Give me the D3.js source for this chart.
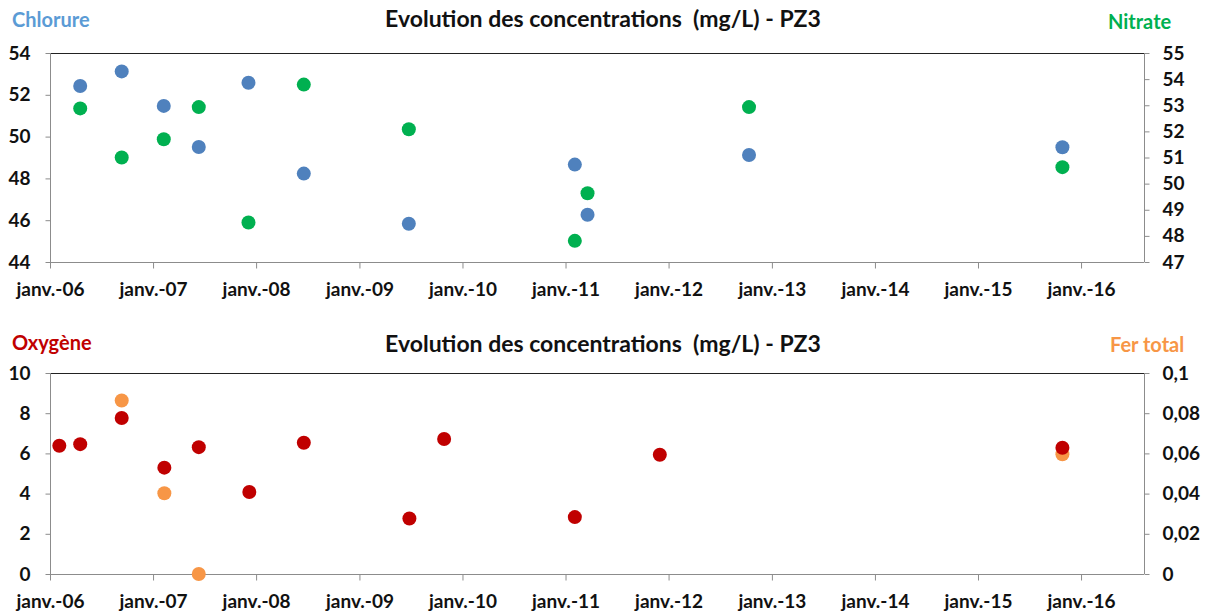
<!DOCTYPE html>
<html><head><meta charset="utf-8">
<script src="https://cdn.jsdelivr.net/npm/d3@7"></script>
<style>
body{margin:0;background:#fff}
svg{display:block}
text{font-family:Lato,"Open Sans",sans-serif;font-weight:bold}
</style>
</head><body>
<svg id="c" width="1211" height="615"></svg>
<script>
const title = "Evolution des concentrations  (mg/L) - PZ3";
const xDomain = ["2006-01-01", "2016-08-11"];
const xTickDates = ["2006-01-01","2007-01-01","2008-01-01","2009-01-01","2010-01-01","2011-01-01","2012-01-01","2013-01-01","2014-01-01","2015-01-01","2016-01-01"];
const xTickLabels = ["janv.-06","janv.-07","janv.-08","janv.-09","janv.-10","janv.-11","janv.-12","janv.-13","janv.-14","janv.-15","janv.-16"];

// Top chart
const chlorureDates = ["2006-04-18","2006-09-12","2007-02-08","2007-06-12","2007-12-05","2008-06-18","2009-06-25","2011-02-03","2011-03-20","2012-10-12","2015-10-27"];
const chlorureValues = [52.42, 53.12, 51.47, 49.5, 52.58, 48.23, 45.83, 48.66, 46.26, 49.12, 49.49];
const nitrateDates = ["2006-04-18","2006-09-12","2007-02-08","2007-06-12","2007-12-05","2008-06-18","2009-06-25","2011-02-03","2011-03-20","2012-10-12","2015-10-27"];
const nitrateValues = [52.88, 51.0, 51.7, 52.93, 48.51, 53.79, 52.08, 47.81, 49.63, 52.93, 50.63];
const chlorureTicks = [44, 46, 48, 50, 52, 54];
const nitrateTicks = [47, 48, 49, 50, 51, 52, 53, 54, 55];

// Bottom chart
const oxygeneDates = ["2006-02-03","2006-04-18","2006-09-12","2007-02-10","2007-06-12","2007-12-08","2008-06-18","2009-06-27","2009-10-28","2011-02-03","2011-12-01","2015-10-27"];
const oxygeneValues = [6.38, 6.46, 7.76, 5.29, 6.31, 4.08, 6.53, 2.76, 6.72, 2.83, 5.93, 6.28];
const ferDates = ["2006-09-12","2007-02-10","2007-06-12","2015-10-27"];
const ferValues = [0.0863, 0.0402, 0.0, 0.0596];
const oxygeneTicks = [0, 2, 4, 6, 8, 10];
const ferTicks = [0, 0.02, 0.04, 0.06, 0.08, 0.1];
const ferTickLabels = ["0", "0,02", "0,04", "0,06", "0,08", "0,1"];

const parse = d3.timeParse("%Y-%m-%d");
const svg = d3.select("#c");
const L = 50, R = 1144;
const x = d3.scaleTime().domain(xDomain.map(parse)).range([L, R]);

function panel(o) {
  const g = svg.append("g");
  const yL = d3.scaleLinear().domain(o.leftDomain).range([o.bottom, o.top]);
  const yR = d3.scaleLinear().domain(o.rightDomain).range([o.bottom, o.top]);
  const axisCol = "#8c8c8c";
  g.append("line").attr("x1", L).attr("x2", R).attr("y1", o.top + 0.5).attr("y2", o.top + 0.5).attr("stroke", "#222").attr("stroke-width", 1);
  const la = d3.axisLeft(yL).tickValues(o.leftTicks).tickSize(5).tickPadding(15).tickFormat(d3.format("d"));
  const lg = g.append("g").attr("transform", `translate(${L + 0.5},0)`).call(la);
  const ra = d3.axisRight(yR).tickValues(o.rightTicks).tickSize(5).tickPadding(13)
    .tickFormat((d, i) => o.rightLabels ? o.rightLabels[i] : d3.format("d")(d));
  const rg = g.append("g").attr("transform", `translate(${R + 0.5},0)`).call(ra);
  const ba = d3.axisBottom(x).tickValues(xTickDates.map(parse)).tickSize(6).tickPadding(14)
    .tickFormat((d, i) => xTickLabels[i]);
  const bg = g.append("g").attr("transform", `translate(0,${o.bottom + 0.5})`).call(ba);
  [lg, rg, bg].forEach(a => {
    a.select(".domain").attr("stroke", axisCol);
    a.selectAll(".tick line").attr("stroke", axisCol);
    a.selectAll(".tick text").attr("fill", "#111").style("font-size", "19px").style("font-family", "Lato, sans-serif").style("font-weight", "bold");
  });
  bg.select(".domain").attr("d", `M${L},0H${R}`);
  lg.select(".domain").attr("d", `M0,${o.bottom}V${o.top}`);
  rg.select(".domain").attr("d", `M0,${o.bottom}V${o.top}`);

  g.append("text").attr("x", 603).attr("y", o.titleY).attr("text-anchor", "middle")
    .style("font-size", "23px").style("white-space", "pre").attr("fill", "#111").text(title);
  g.append("text").attr("x", 12).attr("y", o.labelY).style("font-size", "20px").attr("fill", o.leftColor).text(o.leftName);
  g.append("text").attr("x", o.rightLabelX).attr("y", o.labelY + 2).style("font-size", "20px").attr("fill", o.rightTextColor).text(o.rightName);

  o.series.forEach(s => {
    const yy = s.axis === "left" ? yL : yR;
    g.append("g").selectAll("circle").data(s.dates.map((d, i) => ({d: parse(d), v: s.values[i]})))
      .join("circle").attr("cx", d => x(d.d)).attr("cy", d => yy(d.v)).attr("r", 7).attr("fill", s.color);
  });
}

panel({
  top: 53, bottom: 262, leftDomain: [44, 54], rightDomain: [47, 55],
  leftTicks: chlorureTicks, rightTicks: nitrateTicks,
  titleY: 27, labelY: 27, leftName: "Chlorure", leftColor: "#5b9bd5", rightName: "Nitrate", rightTextColor: "#00b050", rightLabelX: 1108,
  series: [
    {dates: chlorureDates, values: chlorureValues, axis: "left", color: "#4f81bd"},
    {dates: nitrateDates, values: nitrateValues, axis: "right", color: "#00b050"}
  ]
});
panel({
  top: 373, bottom: 574, leftDomain: [0, 10], rightDomain: [0, 0.1],
  leftTicks: oxygeneTicks, rightTicks: ferTicks, rightLabels: ferTickLabels,
  titleY: 352, labelY: 350, leftName: "Oxygène", leftColor: "#c00000", rightName: "Fer total", rightTextColor: "#f79646", rightLabelX: 1110,
  series: [
    {dates: ferDates, values: ferValues, axis: "right", color: "#f79646"},
    {dates: oxygeneDates, values: oxygeneValues, axis: "left", color: "#c00000"}
  ]
});
</script>
</body></html>
